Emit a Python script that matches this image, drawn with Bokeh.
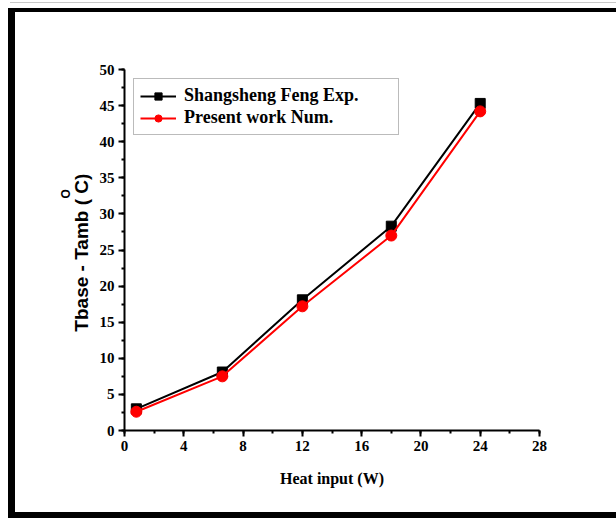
from bokeh.plotting import figure
from bokeh.models import Range1d, SingleIntervalTicker, Legend, LegendItem, Title
from bokeh.embed import file_html
from bokeh.resources import INLINE

# data
heat_input = [0.8, 6.6, 12.0, 18.0, 24.0]
feng_exp = [3.0, 8.1, 18.1, 28.3, 45.3]
present_num = [2.6, 7.5, 17.2, 27.0, 44.2]
series_names = ["Shangsheng Feng Exp.", "Present work Num."]
x_label = "Heat input (W)"
y_label_main = "Tbase - Tamb (  C)"
y_label_sup = "O"

p = figure(width=616, height=518, output_backend="svg", toolbar_location=None,
           x_range=Range1d(0, 28), y_range=Range1d(0, 50),
           min_border_left=124, min_border_right=77, min_border_top=69, min_border_bottom=88)
# outer black frame drawn as CSS background behind a transparent canvas
p.styles = {"background": (
    "linear-gradient(#000,#000) 8px 8px / 7px 510px no-repeat, "
    "linear-gradient(#000,#000) 8px 8px / 608px 4px no-repeat, "
    "linear-gradient(#000,#000) 8px 512px / 608px 6px no-repeat, "
    "linear-gradient(#c8c8c8,#c8c8c8) 10px 2px / 606px 1px no-repeat, "
    "#ffffff")}
p.grid.visible = False
p.outline_line_color = None
p.background_fill_color = "white"
p.border_fill_color = "white"
p.border_fill_alpha = 0.0

p.xaxis.ticker = SingleIntervalTicker(interval=4, num_minor_ticks=2)
p.yaxis.ticker = SingleIntervalTicker(interval=5, num_minor_ticks=2)
for ax in (p.xaxis, p.yaxis):
    ax.axis_line_width = 2
    ax.major_tick_line_width = 2
    ax.minor_tick_line_width = 2
    ax.major_tick_out = 6
    ax.major_tick_in = 0
    ax.minor_tick_out = 3
    ax.minor_tick_in = 0
    ax.major_label_text_font = "Liberation Serif"
    ax.major_label_text_font_style = "bold"
    ax.major_label_text_font_size = "15px"
    ax.major_label_text_color = "black"
    ax.major_label_standoff = 4

p.xaxis.axis_label = x_label
p.xaxis.axis_label_text_font = "Liberation Serif"
p.xaxis.axis_label_text_font_style = "bold"
p.xaxis.axis_label_text_font_size = "16px"
p.xaxis.axis_label_text_color = "black"
p.xaxis.axis_label_standoff = 16

l1 = p.line(heat_input, feng_exp, line_color="black", line_width=2)
s1 = p.scatter(heat_input, feng_exp, marker="square", size=10, fill_color="black", line_color="black")
l2 = p.line(heat_input, present_num, line_color="red", line_width=2)
s2 = p.scatter(heat_input, present_num, marker="circle", size=11, fill_color="red", line_color="red")

legend = Legend(items=[LegendItem(label=series_names[0], renderers=[l1, s1]),
                       LegendItem(label=series_names[1], renderers=[l2, s2])],
                location=(9, 295), orientation="vertical",
                label_text_font="Liberation Serif", label_text_font_style="bold",
                label_text_font_size="18px", label_text_color="black",
                glyph_width=36, glyph_height=18, label_height=18, label_width=208,
                label_standoff=8, padding=6, spacing=1, margin=0,
                border_line_color="#777777", border_line_width=1,
                background_fill_alpha=1.0)
p.add_layout(legend, "center")

# y axis label as a vertical title on the left side
ytitle = Title(text=y_label_main, align="center", standoff=10,
               text_font="Liberation Sans", text_font_style="bold",
               text_font_size="19px", text_color="black")
p.add_layout(ytitle, "left")

# superscript O, placed in the gap of the main label
ysup = Title(text=y_label_sup, align="left", offset=232, standoff=-18,
             text_font="Liberation Sans", text_font_style="bold",
             text_font_size="12px", text_color="black")
p.add_layout(ysup, "left")

open("out.html", "w").write(file_html(p, INLINE))
